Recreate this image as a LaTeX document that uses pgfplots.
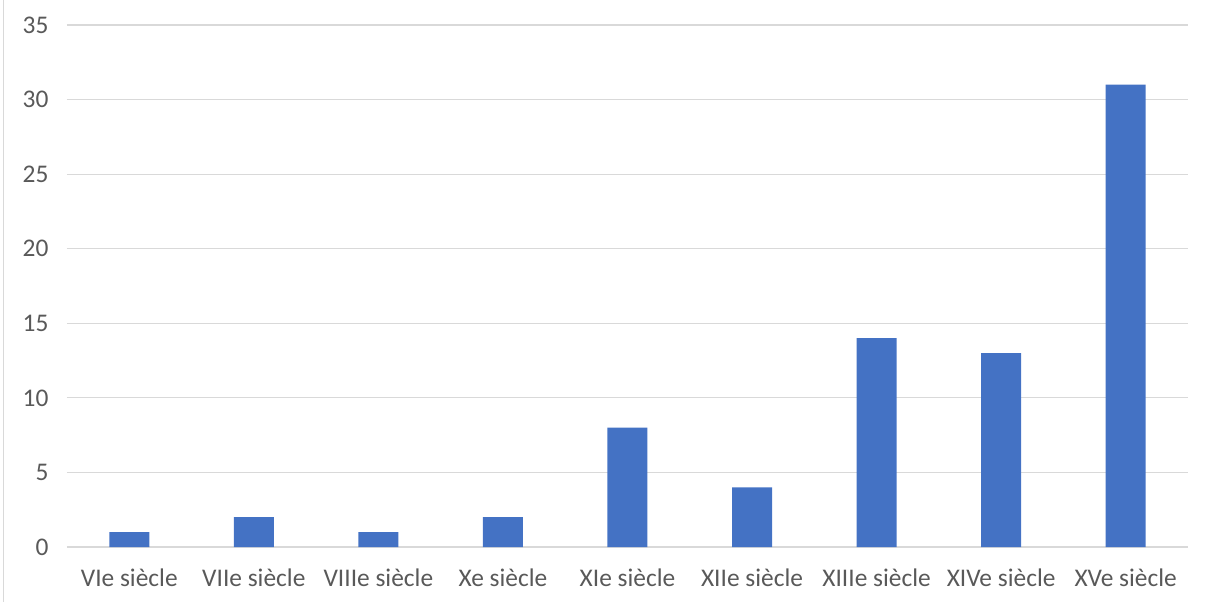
\documentclass[border=0pt]{standalone}
\usepackage{fontspec}
\setmainfont{Carlito}
\usepackage{pgfplots}
\pgfplotsset{compat=1.18}
\definecolor{barblue}{HTML}{4472C4}
\definecolor{gridgray}{HTML}{D9D9D9}
\definecolor{txtgray}{HTML}{595959}
\begin{document}
\begin{tikzpicture}
\useasboundingbox (-67bp,-55bp) rectangle (1141bp,547bp);
\draw[gridgray, line width=1.5bp] (-63.5bp,-55bp) -- (-63.5bp,547bp);
\begin{axis}[
  at={(0,0)}, anchor=south west,
  scale only axis, width=1121bp, height=522bp,
  xmin=-0.5, xmax=8.5, ymin=0, ymax=35,
  ytick={0,5,...,35},
  xtick={0,...,8},
  xticklabels={VIe siècle,VIIe siècle,VIIIe siècle,Xe siècle,XIe siècle,XIIe siècle,XIIIe siècle,XIVe siècle,XVe siècle},
  axis line style={draw=none},
  major tick length=0pt,
  ymajorgrids, grid style={gridgray, line width=1.2bp},
  tick label style={font=\fontsize{25.5}{30}\selectfont, text=txtgray},
  /pgf/number format/assume math mode=true,
  yticklabel style={xshift=-15bp},
  xticklabel style={yshift=-18bp},
  ybar, bar width=40bp,
  clip=false,
]
\addplot[fill=barblue, draw=none] coordinates {(0,1) (1,2) (2,1) (3,2) (4,8) (5,4) (6,14) (7,13) (8,31)};
\end{axis}
\end{tikzpicture}
\end{document}
